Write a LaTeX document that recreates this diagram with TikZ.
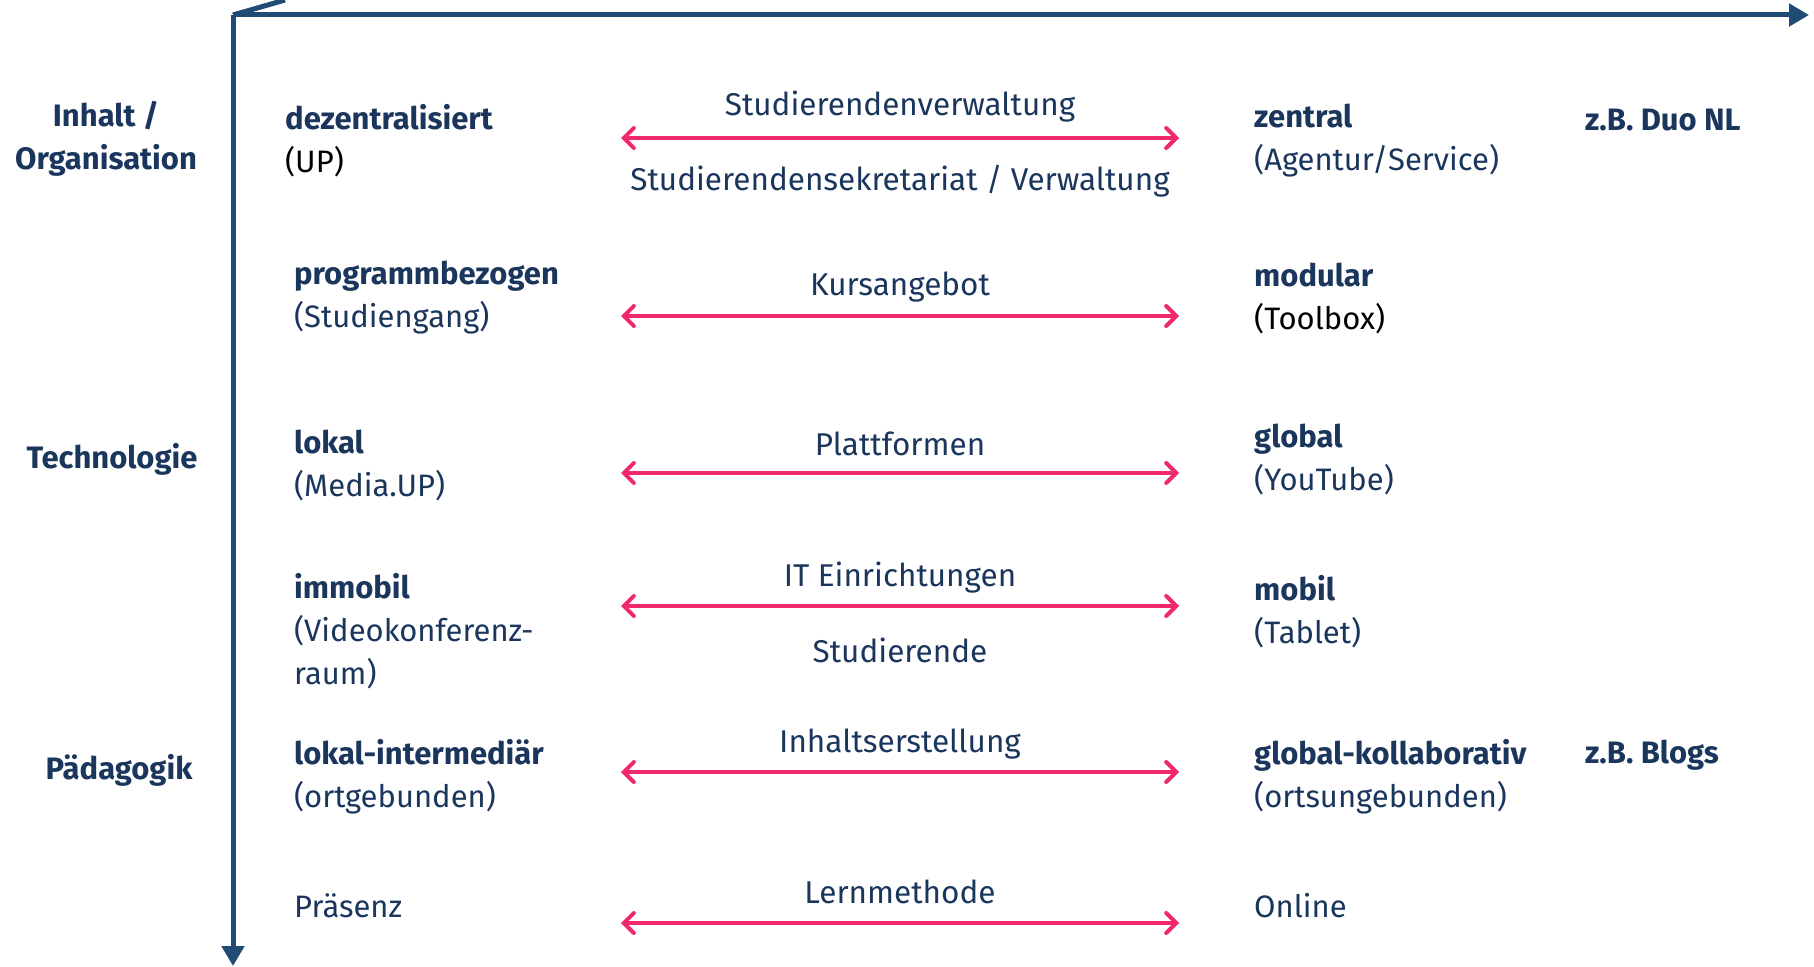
\documentclass[tikz,border=0pt]{standalone}
\usepackage{fontspec}
\setmainfont{Fira Sans}
\usetikzlibrary{arrows.meta}
\definecolor{navy}{HTML}{1F4B75}
\definecolor{txt}{HTML}{1B365D}
\definecolor{pinkc}{HTML}{F0286E}
\tikzset{
  axis/.style={draw=navy, line width=5pt, -{Triangle[length=20pt,width=22pt]}},
  dual/.style={draw=pinkc, line width=4pt, line cap=round, {Straight Barb[length=10pt,width=20pt,line cap=round]}-{Straight Barb[length=10pt,width=20pt,line cap=round]}},
  lab/.style={text=txt, font=\fontsize{31.5}{36}\selectfont, inner sep=0pt},
  cat/.style={text=txt, font=\fontsize{31}{43}\selectfont\bfseries, inner sep=0pt, align=center},
  item/.style={text=txt, font=\fontsize{31}{43}\selectfont, inner sep=0pt, anchor=west, align=left},
}
\newcommand{\hd}[1]{\textbf{#1}}
\newcommand{\bk}[1]{\textcolor{black}{#1}}
\begin{document}
\begin{tikzpicture}[x=1pt,y=-1pt]
\useasboundingbox (0,0) rectangle (1814,966);
% axes
\coordinate (O) at (233,15);
\coordinate (X) at (1809,15);
\coordinate (Y) at (233,966);
\coordinate (D) at (285,0);
\draw[axis] (O) -- (X);
\draw[axis] (O) -- (Y);
\draw[draw=navy, line width=5pt] (O) -- (D);
% categories
\node[cat] (c1) at (106,139) {Inhalt /\\Organisation};
\node[cat] (c2) at (112,459) {Technologie};
\node[cat] (c3) at (119,770) {Pädagogik};
% left items
\node[item] (l1) at (285,141) {\hd{dezentralisiert}\\\bk{(UP)}};
\node[item] (l2) at (294,298) {\hd{programmbezogen}\\(Studiengang)};
\node[item] (l3) at (294,465) {\hd{lokal}\\(Media.UP)};
\node[item] (l4) at (294,631) {\hd{immobil}\\(Videokonferenz-\\raum)};
\node[item] (l5) at (294,777) {\hd{lokal-intermediär}\\(ortgebunden)};
\node[item] (l6) at (294,906) {Präsenz};
% right items
\node[item] (r1) at (1254,141) {\hd{zentral}\\(Agentur/Service)};
\node[item] (r2) at (1254,298) {\hd{modular}\\\bk{(Toolbox)}};
\node[item] (r3) at (1254,459) {\hd{global}\\(YouTube)};
\node[item] (r4) at (1254,612) {\hd{mobil}\\(Tablet)};
\node[item] (r5) at (1254,777) {\hd{global-kollaborativ}\\(ortsungebunden)};
\node[item] (r6) at (1254,906) {Online};
\node[item] (e1) at (1585,120) {\hd{z.B. Duo NL}};
\node[item] (e2) at (1585,755) {\hd{z.B. Blogs}};
% arrows
\foreach \i/\y in {1/138,2/316,3/473,4/606,5/772,6/923}{
  \coordinate (a\i) at (621,\y);
  \coordinate (b\i) at (1179,\y);
  \draw[dual] (a\i) -- (b\i);
}
% arrow labels
\node[lab] (t1) at (900,107) {Studierendenverwaltung};
\node[lab] (t2) at (900,181) {Studierendensekretariat / Verwaltung};
\node[lab] (t3) at (900,287) {Kursangebot};
\node[lab] (t4) at (900,444) {Plattformen};
\node[lab] (t5) at (900,578) {IT Einrichtungen};
\node[lab] (t6) at (900,650) {Studierende};
\node[lab] (t7) at (900,744) {Inhaltserstellung};
\node[lab] (t8) at (900,892) {Lernmethode};
\end{tikzpicture}
\end{document}
